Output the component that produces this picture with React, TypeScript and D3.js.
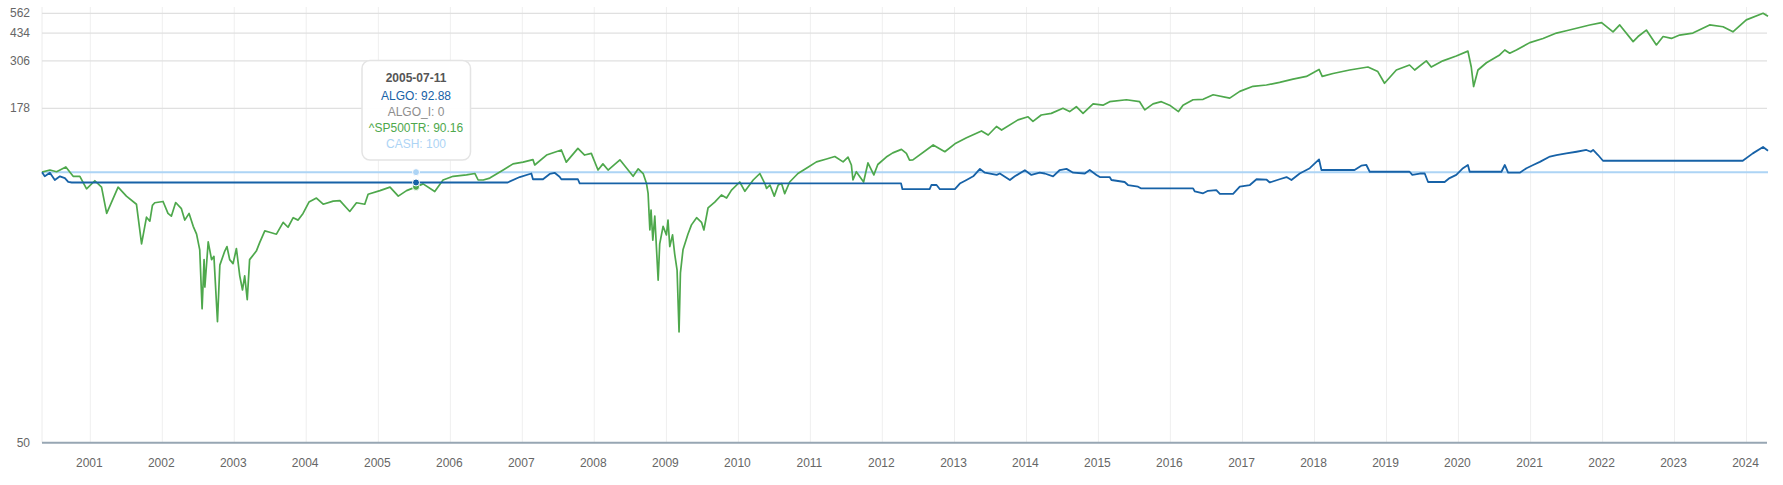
import { useEffect, useRef } from "react";
import * as d3 from "d3";

// values (indexed to 100 at start)
const SP500TR: [string, number][] = [
  ["2000-05-01", 100], ["2000-06-10", 101.6], ["2000-07-14", 100.3], ["2000-08-30", 104],
  ["2000-10-06", 97], ["2000-11-09", 97], ["2000-12-13", 89], ["2001-01-24", 94],
  ["2001-02-27", 90], ["2001-03-25", 77], ["2001-05-22", 90], ["2001-07-03", 85],
  ["2001-08-23", 81], ["2001-09-18", 67], ["2001-10-13", 75.5], ["2001-10-30", 74],
  ["2001-11-12", 80.5], ["2001-11-24", 81.7], ["2002-01-05", 82.3], ["2002-01-30", 77],
  ["2002-02-16", 75.9], ["2002-03-10", 81.8], ["2002-04-08", 79], ["2002-04-25", 74.4],
  ["2002-05-17", 77], ["2002-06-07", 72.2], ["2002-06-24", 69.7], ["2002-07-10", 65.5],
  ["2002-07-22", 56], ["2002-08-01", 63.3], ["2002-08-05", 58.6], ["2002-08-22", 67.5],
  ["2002-09-08", 63.3], ["2002-09-20", 64], ["2002-10-08", 54.8], ["2002-10-20", 62.2],
  ["2002-11-14", 65.2], ["2002-11-25", 66.3], ["2002-12-09", 63.3], ["2002-12-26", 62.5],
  ["2003-01-12", 65.8], ["2003-01-29", 60.3], ["2003-02-12", 58.2], ["2003-02-23", 60.3],
  ["2003-03-08", 57], ["2003-03-20", 63.3], ["2003-04-23", 65.2], ["2003-05-10", 67.3],
  ["2003-06-05", 70.7], ["2003-06-30", 70.3], ["2003-08-03", 69.7], ["2003-09-06", 73.6],
  ["2003-10-01", 71.9], ["2003-10-27", 75.3], ["2003-11-21", 74.4], ["2003-12-16", 77],
  ["2004-01-15", 82], ["2004-02-22", 84], ["2004-03-27", 81], ["2004-05-17", 82.5],
  ["2004-06-20", 82.7], ["2004-08-09", 77.8], ["2004-09-12", 81.7], ["2004-10-24", 81],
  ["2004-11-10", 86], ["2005-01-09", 88], ["2005-03-01", 90], ["2005-04-12", 85],
  ["2005-05-24", 88], ["2005-07-11", 90.16], ["2005-08-16", 92], ["2005-10-14", 87.5],
  ["2005-11-25", 94.5], ["2006-01-15", 97], ["2006-03-24", 98], ["2006-05-06", 99],
  ["2006-05-22", 94.5], ["2006-06-17", 94.5], ["2006-07-20", 95.8], ["2006-09-26", 101.6],
  ["2006-11-15", 106.5], ["2007-01-05", 108], ["2007-02-24", 110.2], ["2007-03-05", 105.6],
  ["2007-05-04", 114.4], ["2007-07-18", 119.4], ["2007-08-12", 108], ["2007-10-10", 121],
  ["2007-11-13", 114.4], ["2007-12-17", 116], ["2008-01-20", 101.6], ["2008-02-14", 106.5],
  ["2008-03-11", 101.6], ["2008-05-10", 110], ["2008-07-16", 97], ["2008-08-11", 102.5],
  ["2008-09-05", 99], ["2008-09-22", 92.2], ["2008-09-30", 86.5], ["2008-10-09", 71],
  ["2008-10-15", 78.4], ["2008-10-24", 68], ["2008-11-03", 75.9], ["2008-11-20", 59.6],
  ["2008-11-28", 67], ["2008-12-15", 72.2], ["2009-01-01", 69.5], ["2009-01-09", 74.4],
  ["2009-01-18", 66.3], ["2009-02-01", 69.5], ["2009-02-12", 64.5], ["2009-02-24", 61.3],
  ["2009-03-06", 54], ["2009-03-13", 60.8], ["2009-03-26", 65.5], ["2009-04-20", 69.7],
  ["2009-05-08", 72.7], ["2009-06-03", 75.3], ["2009-06-28", 73.6], ["2009-07-10", 71],
  ["2009-07-31", 79.3], ["2009-09-03", 82], ["2009-10-07", 85.6], ["2009-11-02", 84],
  ["2009-11-27", 88.3], ["2010-01-08", 93.2], ["2010-02-03", 87.6], ["2010-03-17", 94.5],
  ["2010-04-20", 99], ["2010-05-15", 92.2], ["2010-05-24", 89.3], ["2010-06-10", 91.3],
  ["2010-07-02", 85], ["2010-07-22", 91.3], ["2010-08-08", 92.2], ["2010-08-24", 86.3],
  ["2010-09-18", 93.2], ["2010-10-30", 99], ["2010-12-12", 103], ["2011-02-01", 108.2],
  ["2011-03-24", 110.7], ["2011-05-05", 113], ["2011-06-16", 108.2], ["2011-07-11", 112.5],
  ["2011-07-28", 105.6], ["2011-08-05", 94.5], ["2011-08-22", 100.3], ["2011-09-28", 93.2],
  ["2011-10-20", 107.3], ["2011-11-19", 98], ["2011-12-09", 106], ["2012-01-21", 112.5],
  ["2012-02-23", 116.5], ["2012-04-07", 120], ["2012-05-02", 116], ["2012-05-18", 109.8],
  ["2012-06-04", 110], ["2012-09-15", 124.7], ["2012-11-13", 117.6], ["2013-01-03", 126],
  ["2013-03-03", 133], ["2013-05-18", 141.8], ["2013-06-21", 136.5], ["2013-08-02", 148],
  ["2013-08-28", 143], ["2013-11-19", 158], ["2014-01-09", 163], ["2014-02-03", 155.7],
  ["2014-03-17", 166], ["2014-05-07", 168.8], ["2014-07-05", 178], ["2014-08-08", 172],
  ["2014-09-11", 181], ["2014-10-15", 169], ["2014-12-05", 186.5], ["2015-01-24", 184],
  ["2015-02-27", 191], ["2015-05-23", 195], ["2015-07-29", 191], ["2015-08-24", 175],
  ["2015-10-05", 186.5], ["2015-11-16", 191], ["2015-12-28", 184], ["2016-02-11", 172],
  ["2016-03-05", 184], ["2016-04-25", 195], ["2016-06-15", 196], ["2016-08-05", 206],
  ["2016-10-28", 198.5], ["2016-12-18", 214], ["2017-02-23", 226.5], ["2017-05-02", 230],
  ["2017-07-08", 237], ["2017-09-14", 246], ["2017-11-21", 254], ["2018-01-24", 276],
  ["2018-02-09", 254], ["2018-04-05", 263], ["2018-06-28", 274], ["2018-09-29", 284],
  ["2018-11-18", 269], ["2018-12-22", 234.5], ["2019-02-20", 274], ["2019-04-28", 291],
  ["2019-05-24", 274], ["2019-07-22", 306], ["2019-08-16", 284], ["2019-10-14", 306],
  ["2019-12-21", 325], ["2020-02-18", 345], ["2020-03-06", 284], ["2020-03-18", 226],
  ["2020-04-09", 274], ["2020-05-22", 299], ["2020-07-28", 329], ["2020-08-23", 350],
  ["2020-09-17", 336], ["2020-10-21", 350], ["2020-12-28", 384], ["2021-03-05", 405],
  ["2021-05-12", 434], ["2021-07-01", 447], ["2021-08-22", 462], ["2021-10-28", 482],
  ["2021-12-27", 497], ["2022-02-23", 441], ["2022-03-29", 482], ["2022-06-05", 389],
  ["2022-06-30", 415], ["2022-08-11", 451], ["2022-10-01", 373], ["2022-11-04", 415],
  ["2022-12-16", 405], ["2023-01-27", 423], ["2023-04-04", 434], ["2023-06-28", 482],
  ["2023-09-04", 471], ["2023-10-24", 441], ["2023-12-31", 515], ["2024-03-25", 562],
  ["2024-04-19", 540],
];

const ALGO: [string, number][] = [
  ["2000-05-01", 100], ["2000-05-15", 97], ["2000-06-10", 99.6], ["2000-07-05", 94.5],
  ["2000-07-31", 97], ["2000-08-25", 95.8], ["2000-09-11", 93.3], ["2000-09-29", 92.88],
  ["2006-10-19", 92.88], ["2006-12-19", 96.5], ["2007-02-16", 99], ["2007-02-24", 95],
  ["2007-04-16", 95], ["2007-05-20", 98.7], ["2007-06-14", 99.5], ["2007-07-09", 96.7],
  ["2007-07-18", 95], ["2007-10-10", 95], ["2007-10-19", 92.3], ["2012-04-05", 92.3],
  ["2012-04-12", 88.8], ["2012-08-28", 88.8], ["2012-09-06", 91.3], ["2012-10-02", 91.3],
  ["2012-10-19", 88.8], ["2013-01-03", 88.8], ["2013-01-28", 92.2], ["2013-03-03", 94.5],
  ["2013-04-06", 97], ["2013-05-10", 102.5], ["2013-06-04", 99.6], ["2013-08-03", 98],
  ["2013-08-19", 99], ["2013-10-09", 94.5], ["2013-11-03", 97], ["2013-12-24", 101.5],
  ["2014-01-26", 98], ["2014-03-09", 99.6], ["2014-04-04", 99], ["2014-05-16", 97],
  ["2014-06-19", 101.6], ["2014-07-23", 102.5], ["2014-08-26", 99.6], ["2014-10-24", 99],
  ["2014-11-18", 101.6], ["2014-12-22", 98], ["2015-01-08", 96.5], ["2015-02-27", 96.5],
  ["2015-03-08", 94.5], ["2015-05-14", 93.2], ["2015-05-31", 91.3], ["2015-07-21", 90.3],
  ["2015-08-04", 89.3], ["2016-04-25", 89.3], ["2016-05-04", 87.5], ["2016-06-15", 86.5],
  ["2016-07-10", 87.9], ["2016-08-21", 88.3], ["2016-09-08", 86.2], ["2016-11-14", 86.2],
  ["2016-12-18", 90.3], ["2017-02-07", 91.3], ["2017-03-13", 95], ["2017-05-02", 94.8],
  ["2017-05-19", 92.9], ["2017-07-08", 95], ["2017-08-12", 96.5], ["2017-09-06", 94.5],
  ["2017-10-18", 99], ["2017-12-08", 103], ["2018-01-24", 110.4], ["2018-02-05", 101.6],
  ["2018-07-23", 101.6], ["2018-08-26", 105], ["2018-09-21", 105.6], ["2018-10-08", 100.3],
  ["2019-04-28", 100.3], ["2019-05-12", 98], ["2019-06-19", 99], ["2019-07-14", 99],
  ["2019-07-31", 93.2], ["2019-10-23", 93.2], ["2019-11-17", 95.8], ["2019-12-21", 98],
  ["2020-01-24", 103], ["2020-02-18", 105.6], ["2020-02-27", 100.3], ["2020-08-06", 100.3],
  ["2020-08-23", 105.6], ["2020-09-09", 99.6], ["2020-11-07", 99.6], ["2020-12-11", 103],
  ["2021-01-14", 105.6], ["2021-02-17", 108.2], ["2021-04-09", 113], ["2021-05-12", 114.4],
  ["2021-07-01", 116], ["2021-08-22", 117.6], ["2021-10-11", 119.4], ["2021-11-02", 117.6],
  ["2021-11-14", 119.4], ["2021-12-09", 114.4], ["2022-01-03", 109.2], ["2023-12-13", 109.2],
  ["2024-02-02", 116], ["2024-03-25", 122.5], ["2024-04-19", 118.7],
];

const CASH: [string, number][] = [["2000-05-01", 100], ["2024-04-19", 100]];

const yTicks = [50, 178, 306, 434, 562];
const xTickYears = d3.range(2001, 2025);

const tipDate = "2005-07-11";
const tipRows: [string, string, string][] = [
  ["ALGO", "92.88", "#1762a7"],
  ["ALGO_I", "0", "#8e8e8e"],
  ["^SP500TR", "90.16", "#4ea84c"],
  ["CASH", "100", "#add4f5"],
];

const COLORS = { algo: "#1762a7", spx: "#4ea84c", cash: "#add4f5" };
const Y_SHIFT = 49;

export default function App() {
  const svgRef = useRef<SVGSVGElement | null>(null);
  const width = 1783;
  const height = 485;

  useEffect(() => {
    const svg = d3.select(svgRef.current);
    svg.selectAll("*").remove();

    const left = 42;
    const right = 1768;
    const bottom = 442.7;
    const plotTop = 7;

    const parse = d3.utcParse("%Y-%m-%d");
    const x = d3
      .scaleUtc()
      .domain([parse("2000-05-01")!, parse("2024-04-19")!])
      .range([left, right]);
    // log axis on (value - 49), so 50 sits on the floor
    const yLog = d3.scaleLog().domain([50 - Y_SHIFT, 562 - Y_SHIFT]).range([bottom, 13.3]);
    const y = (v: number) => yLog(v - Y_SHIFT);

    const font = "'Liberation Sans', Arial, sans-serif";

    // vertical grid
    const vg = svg.append("g");
    vg.append("line")
      .attr("x1", left).attr("x2", left)
      .attr("y1", plotTop).attr("y2", bottom)
      .attr("stroke", "#ececec").attr("stroke-width", 1);
    xTickYears.forEach((yr) => {
      const xx = x(new Date(Date.UTC(yr, 0, 1)));
      vg.append("line")
        .attr("x1", xx).attr("x2", xx)
        .attr("y1", plotTop).attr("y2", bottom)
        .attr("stroke", "#efefef").attr("stroke-width", 1);
    });

    // horizontal grid + y labels
    yTicks.forEach((t) => {
      if (t !== 50) {
        svg.append("line")
          .attr("x1", left).attr("x2", 1767)
          .attr("y1", y(t)).attr("y2", y(t))
          .attr("stroke", "#e0e0e0").attr("stroke-width", 1.3);
      }
      svg.append("text")
        .attr("x", 30).attr("y", y(t) + 4)
        .attr("text-anchor", "end")
        .style("font-family", font).style("font-size", "12px")
        .style("fill", "#666")
        .text(String(t));
    });

    // x axis
    svg.append("line")
      .attr("x1", left).attr("x2", 1767)
      .attr("y1", bottom).attr("y2", bottom)
      .attr("stroke", "#97a6b3").attr("stroke-width", 2);
    xTickYears.forEach((yr) => {
      svg.append("text")
        .attr("x", x(new Date(Date.UTC(yr, 0, 1))) - 1)
        .attr("y", 467)
        .attr("text-anchor", "middle")
        .style("font-family", font).style("font-size", "12px")
        .style("fill", "#666")
        .text(String(yr));
    });

    const line = d3
      .line<[string, number]>()
      .x((d) => x(parse(d[0])!))
      .y((d) => y(d[1]));

    svg.append("path").datum(CASH)
      .attr("d", line).attr("fill", "none")
      .attr("stroke", COLORS.cash).attr("stroke-width", 2);
    svg.append("path").datum(SP500TR)
      .attr("d", line).attr("fill", "none")
      .attr("stroke", COLORS.spx).attr("stroke-width", 1.7)
      .attr("stroke-linejoin", "round");
    svg.append("path").datum(ALGO)
      .attr("d", line).attr("fill", "none")
      .attr("stroke", COLORS.algo).attr("stroke-width", 1.8)
      .attr("stroke-linejoin", "round");

    // hover markers
    const tx = x(parse(tipDate)!);
    [
      [100, COLORS.cash],
      [90.16, COLORS.spx],
      [92.88, COLORS.algo],
    ].forEach(([v, c]) => {
      svg.append("circle")
        .attr("cx", tx).attr("cy", y(v as number)).attr("r", 3.5)
        .attr("fill", c as string).attr("stroke", "#fff").attr("stroke-width", 1);
    });

    // tooltip
    const tip = svg.append("g");
    tip.append("rect")
      .attr("x", 362).attr("y", 60.5)
      .attr("width", 108.5).attr("height", 99.5)
      .attr("rx", 8)
      .attr("fill", "rgba(255,255,255,0.96)")
      .attr("stroke", "#e4e4e4").attr("stroke-width", 1.5);
    tip.append("text")
      .attr("x", 416).attr("y", 82)
      .attr("text-anchor", "middle")
      .style("font-family", font).style("font-size", "12px")
      .style("font-weight", "bold").style("fill", "#555")
      .text(tipDate);
    tipRows.forEach(([name, val, c], i) => {
      tip.append("text")
        .attr("x", 416).attr("y", 100.3 + i * 15.9)
        .attr("text-anchor", "middle")
        .style("font-family", font).style("font-size", "12px")
        .style("fill", c)
        .text(`${name}: ${val}`);
    });
  }, []);

  return (
    <svg
      ref={svgRef}
      width={width}
      height={height}
      style={{ position: "absolute", left: 0, top: 0, background: "#fff" }}
    />
  );
}
